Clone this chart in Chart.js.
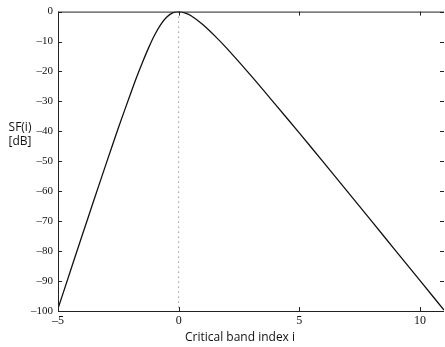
<!DOCTYPE html>
<html>
<head>
<meta charset="utf-8">
<script src="https://cdn.jsdelivr.net/npm/chart.js@4"></script>
<style>
  html, body { margin: 0; padding: 0; background: #fff; }
  #wrap { width: 445px; height: 347px; }
</style>
</head>
<body>
<div id="wrap"><canvas id="sf-chart"></canvas></div>
<script>
// values
const bandIndex = [-5, -4.5, -4, -3.5, -3, -2.5, -2, -1.75, -1.5, -1.25, -1, -0.75, -0.5, -0.25, 0,
  0.25, 0.5, 1, 1.5, 2, 3, 4, 5, 6, 7, 8, 9, 10, 11];
const sfValues = [-99.2, -87, -74.8, -62.7, -50.7, -38.9, -27.6, -22.1, -17, -12.2, -7.9, -4.4, -1.9, -0.4, 0,
  -0.4, -1.3, -4.3, -8.1, -12.3, -21.4, -30.9, -40.5, -50.3, -60.1, -70, -79.9, -89.8, -99.7];
const xTicks = [-5, 0, 5, 10];
const yTicks = [-100, -90, -80, -70, -60, -50, -40, -30, -20, -10, 0];
const markerX = [0, 0];
const markerY = [0, -100];

const dash = v => String(v).replace('-', '\u2013');

// MATLAB-like frame with inward ticks, plus the titles
const framePlugin = {
  id: 'frame',
  afterDraw(chart) {
    const ctx = chart.ctx;
    const a = chart.chartArea;
    const xs = chart.scales.x, ys = chart.scales.y;
    ctx.save();
    ctx.strokeStyle = '#222';
    ctx.lineWidth = 1;
    ctx.beginPath();
    ctx.moveTo(a.left + 0.5, a.top + 0.5);
    ctx.lineTo(a.left + 0.5, a.bottom + 0.5);
    ctx.lineTo(a.right, a.bottom + 0.5);
    ctx.moveTo(a.left, a.top + 0.5);
    ctx.lineTo(a.right, a.top + 0.5);
    xTicks.forEach(v => {
      const px = Math.round(xs.getPixelForValue(v)) + 0.5;
      ctx.moveTo(px, a.bottom); ctx.lineTo(px, a.bottom - 4);
      ctx.moveTo(px, a.top); ctx.lineTo(px, a.top + 4);
    });
    yTicks.forEach(v => {
      const py = Math.round(ys.getPixelForValue(v)) + 0.5;
      ctx.moveTo(a.left, py); ctx.lineTo(a.left + 4, py);
      ctx.moveTo(a.right, py); ctx.lineTo(a.right - 4, py);
    });
    ctx.stroke();

    ctx.fillStyle = '#111';
    ctx.font = '12px "Open Sans"';
    ctx.textAlign = 'center';
    ctx.textBaseline = 'middle';
    ctx.fillText('Critical band index i', 240, 338);
    ctx.fillText('SF(i)', 20, 128);
    ctx.fillText('[dB]', 20, 142);
    ctx.restore();
  }
};

const chartCanvas = document.getElementById('sf-chart').getContext('2d');

const config = {
  type: 'line',
  data: {
    datasets: [
      {
        data: bandIndex.map((x, i) => ({ x: x, y: sfValues[i] })),
        borderColor: '#111',
        borderWidth: 1.3,
        pointRadius: 0,
        tension: 0.3,
        fill: false
      },
      {
        data: markerX.map((x, i) => ({ x: x, y: markerY[i] })),
        borderColor: '#666',
        borderWidth: 1,
        borderDash: [1, 4],
        pointRadius: 0,
        fill: false
      }
    ]
  },
  options: {
    responsive: true,
    maintainAspectRatio: false,
    animation: false,
    layout: { padding: { top: 9, right: 1, left: 0, bottom: 0 } },
    plugins: { legend: { display: false }, tooltip: { enabled: false } },
    scales: {
      x: {
        type: 'linear',
        min: -5,
        max: 11,
        afterBuildTicks: s => { s.ticks = xTicks.map(v => ({ value: v })); },
        afterFit: s => { s.height = 36; },
        grid: { display: false, drawTicks: false },
        border: { display: false },
        ticks: {
          padding: 3,
          color: '#111',
          font: { family: '"Liberation Serif"', size: 12 },
          maxRotation: 0,
          callback: v => dash(v)
        }
      },
      y: {
        min: -100,
        max: 0,
        afterBuildTicks: s => { s.ticks = yTicks.map(v => ({ value: v })); },
        afterFit: s => { s.width = 58; },
        grid: { display: false, drawTicks: false },
        border: { display: false },
        ticks: {
          padding: 5,
          color: '#111',
          font: { family: '"Liberation Serif"', size: 11 },
          callback: v => dash(v)
        }
      }
    }
  },
  plugins: [framePlugin]
};

const sfChart = new Chart(chartCanvas, config);
</script>
</body>
</html>
